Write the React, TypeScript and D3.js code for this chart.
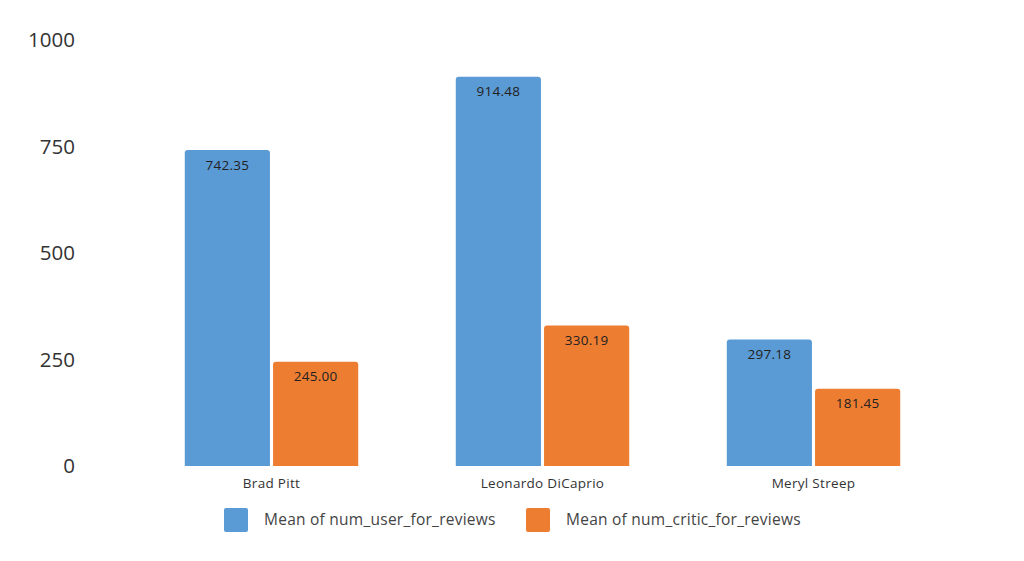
import React from "react";
import * as d3 from "d3";

const categories = ["Brad Pitt", "Leonardo DiCaprio", "Meryl Streep"];
const seriesNames = ["Mean of num_user_for_reviews", "Mean of num_critic_for_reviews"];
const userReviews = [742.35, 914.48, 297.18];
const criticReviews = [245.0, 330.19, 181.45];
const yTicks = [0, 250, 500, 750, 1000];
const colors = ["#5b9bd5", "#ed7d31"];

const W = 1024;
const H = 561;
const FONT = "'Open Sans', 'Noto Sans', sans-serif";

export default function App() {
  const x = d3.scaleBand<string>().domain(categories).range([136, 949]).paddingInner(0.36).paddingOuter(0.18);
  const x1 = d3.scaleBand<number>().domain([0, 1]).range([0, x.bandwidth()]).paddingInner(0.035);
  const y = d3.scaleLinear().domain([0, 1000]).range([466, 40.3]);
  const series = [userReviews, criticReviews];
  const r = 3;

  const barPath = (x0: number, w: number, yTop: number, yBot: number) =>
    `M${x0},${yBot}V${yTop + r}Q${x0},${yTop} ${x0 + r},${yTop}H${x0 + w - r}Q${x0 + w},${yTop} ${x0 + w},${yTop + r}V${yBot}Z`;

  return (
    <svg width={W} height={H} style={{ position: "absolute", left: 0, top: 0, background: "#fff" }} fontFamily={FONT}>
      <rect x={0} y={0} width={W} height={H} fill="#fff" />
      {yTicks.map((t) => (
        <text key={t} x={75} y={y(t)} dy="0.35em" textAnchor="end" fontSize={20.5} fill="#333">
          {t}
        </text>
      ))}
      {categories.map((c, i) => (
        <g key={c}>
          {series.map((s, j) => {
            const bx = (x(c) as number) + (x1(j) as number);
            const bw = x1.bandwidth();
            return (
              <g key={j}>
                <path d={barPath(bx, bw, y(s[i]), y(0))} fill={colors[j]} />
                <text x={bx + bw / 2} y={y(s[i]) + 15} dy="0.35em" textAnchor="middle" fontSize={13.5} letterSpacing={0.3} fill="#222">
                  {s[i].toFixed(2)}
                </text>
              </g>
            );
          })}
          <text x={(x(c) as number) + x.bandwidth() / 2} y={483} dy="0.35em" textAnchor="middle" fontSize={13.5} letterSpacing={0.3} fill="#333">
            {c}
          </text>
        </g>
      ))}
      {seriesNames.map((n, j) => {
        const lx = [224, 526][j];
        return (
          <g key={n}>
            <rect x={lx} y={508} width={24} height={24} rx={2} fill={colors[j]} />
            <text x={lx + 40} y={520} dy="0.35em" fontSize={15.5} letterSpacing={0.25} fill="#444">
              {n}
            </text>
          </g>
        );
      })}
    </svg>
  );
}
